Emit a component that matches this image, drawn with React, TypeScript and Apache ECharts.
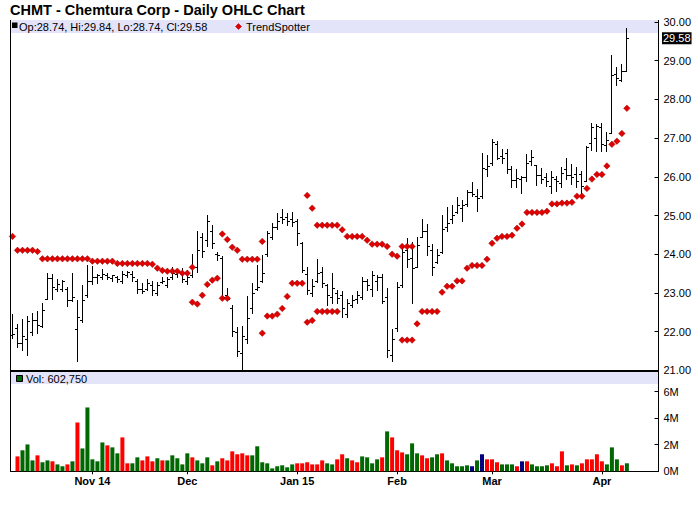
import React, { useEffect, useRef } from "react";
import * as echarts from "echarts";

const dates = [
  "2014-10-10","2014-10-13","2014-10-14","2014-10-15","2014-10-16","2014-10-17","2014-10-20","2014-10-21","2014-10-22","2014-10-23","2014-10-24","2014-10-27","2014-10-28","2014-10-29","2014-10-30","2014-10-31",
  "2014-11-03","2014-11-04","2014-11-05","2014-11-06","2014-11-07","2014-11-10","2014-11-11","2014-11-12","2014-11-13","2014-11-14","2014-11-17","2014-11-18","2014-11-19","2014-11-20","2014-11-21","2014-11-24","2014-11-25","2014-11-26","2014-11-28",
  "2014-12-01","2014-12-02","2014-12-03","2014-12-04","2014-12-05","2014-12-08","2014-12-09","2014-12-10","2014-12-11","2014-12-12","2014-12-15","2014-12-16","2014-12-17","2014-12-18","2014-12-19","2014-12-22","2014-12-23","2014-12-24","2014-12-26","2014-12-29","2014-12-30","2014-12-31",
  "2015-01-02","2015-01-05","2015-01-06","2015-01-07","2015-01-08","2015-01-09","2015-01-12","2015-01-13","2015-01-14","2015-01-15","2015-01-16","2015-01-20","2015-01-21","2015-01-22","2015-01-23","2015-01-26","2015-01-27","2015-01-28","2015-01-29","2015-01-30",
  "2015-02-02","2015-02-03","2015-02-04","2015-02-05","2015-02-06","2015-02-09","2015-02-10","2015-02-11","2015-02-12","2015-02-13","2015-02-17","2015-02-18","2015-02-19","2015-02-20","2015-02-23","2015-02-24","2015-02-25","2015-02-26","2015-02-27",
  "2015-03-02","2015-03-03","2015-03-04","2015-03-05","2015-03-06","2015-03-09","2015-03-10","2015-03-11","2015-03-12","2015-03-13","2015-03-16","2015-03-17","2015-03-18","2015-03-19","2015-03-20","2015-03-23","2015-03-24","2015-03-25","2015-03-26","2015-03-27","2015-03-30","2015-03-31",
  "2015-04-01","2015-04-02","2015-04-06","2015-04-07","2015-04-08","2015-04-09"
];

const tickLabels = ["Nov 14", "Dec", "Jan 15", "Feb", "Mar", "Apr"];

const opens = [
  21.91,22.10,21.70,21.80,21.99,22.30,22.14,22.84,23.38,23.10,
  23.10,23.10,22.82,22.07,22.30,22.95,23.30,23.40,23.40,23.45,
  23.38,23.40,23.30,23.45,23.50,23.30,23.10,23.10,23.20,23.00,
  23.28,23.20,23.40,23.50,23.55,23.30,23.45,23.67,24.44,24.37,
  24.60,24.00,23.90,22.95,22.60,22.00,21.45,21.80,22.60,23.10,
  23.30,24.00,24.45,24.70,24.95,24.95,24.90,24.85,24.30,23.50,
  23.00,23.30,23.55,23.20,22.90,23.00,22.95,22.45,22.70,22.85,
  22.90,23.30,23.10,23.30,23.40,22.90,21.40,22.10,23.20,24.10,
  23.90,23.67,24.44,24.60,24.10,23.80,24.06,24.70,24.90,25.10,
  25.20,25.30,25.61,25.50,25.50,26.20,26.35,26.85,26.55,26.61,
  26.20,25.92,25.94,26.00,26.40,26.30,26.05,26.00,25.76,25.95,
  25.85,26.20,26.05,26.07,26.07,25.90,26.87,27.00,27.29,26.82,
  27.13,28.66,28.50,28.74
];
const highs = [
  22.45,22.20,22.33,22.40,22.48,22.53,22.74,23.51,23.49,23.36,
  23.33,23.15,23.51,22.82,23.20,23.72,23.70,23.49,23.62,23.51,
  23.46,23.44,23.57,23.57,23.57,23.36,23.26,23.36,23.31,23.28,
  23.41,23.41,23.67,23.62,23.64,23.59,24.01,24.60,24.55,25.01,
  24.75,24.06,23.95,23.13,22.69,22.12,22.14,22.92,23.26,23.72,
  23.98,24.60,24.81,25.06,25.17,25.06,25.09,24.91,24.32,23.67,
  23.36,23.88,23.67,23.23,23.51,23.07,23.05,22.84,22.95,23.05,
  23.41,23.36,23.57,23.46,23.49,23.13,22.07,23.28,24.19,24.42,
  24.32,24.44,24.91,24.78,24.26,24.13,25.01,25.22,25.27,25.48,
  25.40,25.66,25.87,25.68,26.61,26.56,26.98,26.93,26.72,26.72,
  26.28,26.20,26.02,26.59,26.69,26.30,26.23,26.10,26.15,26.02,
  26.25,26.49,26.33,26.25,26.15,26.80,27.39,27.36,27.39,27.16,
  29.15,28.84,28.91,29.84
];
const lows = [
  21.83,21.60,21.52,21.40,21.91,21.96,22.12,22.84,22.84,23.05,
  23.05,22.66,22.79,21.24,22.25,22.89,23.23,23.26,23.36,23.36,
  23.31,23.28,23.26,23.41,23.31,23.00,23.00,23.07,22.95,22.95,
  23.26,23.15,23.36,23.41,23.28,23.23,23.41,23.54,23.93,24.21,
  24.16,23.85,22.84,22.82,21.89,21.37,21.01,21.71,22.48,23.07,
  23.28,23.95,24.39,24.65,24.81,24.75,24.73,24.24,23.54,22.97,
  22.92,23.28,23.15,22.69,22.74,22.74,22.38,22.38,22.64,22.74,
  22.84,23.07,22.92,23.07,22.74,21.34,21.24,22.02,23.15,23.67,
  22.74,23.67,24.44,23.98,23.46,23.77,24.03,24.60,24.81,25.06,
  24.86,25.25,25.50,25.12,25.45,26.02,26.30,26.46,26.36,26.10,
  25.74,25.74,25.58,25.89,26.30,25.79,25.84,25.76,25.58,25.63,
  25.74,25.94,25.81,25.74,25.48,25.89,26.69,26.67,26.67,26.67,
  27.13,28.37,28.48,28.74
];
const closes = [
  21.94,21.71,21.89,22.27,22.30,22.17,22.56,23.38,23.15,23.23,
  23.31,22.82,22.89,22.38,22.82,23.31,23.41,23.45,23.50,23.42,
  23.45,23.36,23.49,23.55,23.40,23.10,23.05,23.26,23.07,23.20,
  23.31,23.36,23.51,23.54,23.36,23.41,23.67,24.10,24.08,24.86,
  24.29,23.98,22.89,22.85,22.02,21.50,21.89,22.35,23.00,23.15,
  23.51,24.55,24.70,24.86,24.91,24.86,24.83,24.55,23.59,23.07,
  23.18,23.51,23.26,22.95,23.13,22.87,22.62,22.74,22.82,22.95,
  23.31,23.20,23.46,23.40,22.79,21.52,21.81,23.15,24.06,23.88,
  23.64,24.24,24.60,24.21,23.67,23.98,24.65,24.81,25.01,25.27,
  25.27,25.61,25.55,25.45,26.23,26.28,26.90,26.49,26.49,26.20,
  25.92,25.97,26.00,26.36,26.51,26.05,25.95,25.89,26.00,25.89,
  26.10,26.05,25.99,25.90,25.75,26.77,27.29,27.32,26.85,26.95,
  28.63,28.55,28.73,29.58
];

// volume in millions of shares (first bar has none)
const volumes = [
  null,
  1.12,1.58,2.02,0.82,1.2,0.68,0.82,0.75,0.52,0.38,
  0.52,0.75,3.67,1.72,4.8,0.9,0.75,2.17,1.95,1.8,
  1.35,2.55,0.6,0.6,1.05,0.82,1.12,0.75,0.98,0.82,
  0.82,1.2,0.98,0.52,1.35,1.05,0.82,0.6,1.05,0.45,
  0.75,0.98,0.82,1.5,1.28,1.35,1.2,1.2,1.88,0.68,
  0.6,0.22,0.38,0.45,0.3,0.52,0.6,0.6,0.68,0.52,
  0.52,0.82,0.6,0.52,0.9,1.28,0.98,
  0.82,0.68,1.12,1.05,0.6,0.9,1.05,3.0,2.55,1.58,
  1.42,1.28,2.1,1.35,1.2,0.98,1.05,1.28,1.35,0.82,
  0.6,0.38,0.38,0.45,0.38,0.82,1.28,0.9,0.9,0.68,
  0.52,0.52,0.52,0.38,0.75,0.75,0.52,0.38,0.38,0.45,
  0.6,0.38,1.5,0.45,0.52,0.45,0.6,0.9,0.9,1.28,
  0.75,0.52,1.8,0.9,0.45,0.60275
];
// u = up day, d = down day, n = unchanged
const volDir =
  "-duuuduuduududuuuuuduudduuddduduuuuuduuudu" +
  "dddddduuuuuuuuudddddduudduddu" +
  "uuududdduuudduuduuuuununddduuudnduuuudddu" +
  "duddddduuuduuduu";

const trendA = [
  24.46,24.10,24.10,24.10,24.10,24.07,23.88,23.88,23.88,23.88,
  23.88,23.88,23.88,23.88,23.88,23.88,23.82,23.82,23.82,23.82,
  23.82,23.76,23.76,23.76,23.76,23.76,23.76,23.76,23.74,23.64,
  23.58,23.56,23.56,23.56,23.51,23.51,23.66,null,null,null,
  null,null,24.52,24.38,24.18,24.10,23.87,23.87,23.87,23.87,
  24.33,null,null,null,null,null,null,null,null,25.52,
  25.19,24.75,24.75,24.75,24.75,24.75,24.63,24.46,24.46,24.46,
  24.46,24.36,24.26,24.26,24.26,24.20,24.00,23.95,24.20,24.20,
  24.20,null,null,null,null,null,null,null,null,null,
  null,null,null,null,null,null,null,null,null,null,
  null,null,null,null,null,null,null,null,null,null,
  null,null,null,null,null,null,null,null,null,null,
  null,null,null,null
];
const trendB = [
  null,null,null,null,null,null,null,null,null,null,
  null,null,null,null,null,null,null,null,null,null,
  null,null,null,null,null,null,null,null,null,null,
  null,null,null,null,null,null,22.76,22.71,22.94,23.22,
  23.33,23.38,22.86,22.86,null,null,null,null,null,null,
  21.96,22.40,22.40,22.45,22.60,22.91,23.25,23.25,23.25,22.24,
  22.29,22.52,22.52,22.52,22.52,22.52,null,null,null,null,
  null,null,null,null,null,null,null,null,21.78,21.78,
  21.78,22.20,22.52,22.52,22.52,22.52,23.02,23.17,23.17,23.31,
  23.31,23.64,23.71,23.71,23.71,23.87,24.28,24.41,24.46,24.46,
  24.49,24.67,24.78,25.08,25.08,25.08,25.08,25.11,25.30,25.30,
  25.32,25.32,25.34,25.50,25.50,25.70,25.94,26.06,26.06,26.28,
  26.84,26.92,27.12,27.77
];

const FONT = "'Liberation Sans', Arial, Helvetica, sans-serif";
const UP = "#006800";
const DOWN = "#ff0000";
const FLAT = "#000080";
const BAND = "#e3e3fa";
const DOT = "#e00000";

export default function App() {
  const ref = useRef<HTMLDivElement>(null);

  useEffect(() => {
    document.body.style.margin = "0";
    const chart = echarts.init(ref.current!, null, { renderer: "svg" });
    const n = dates.length;
    const last = n - 1;

    const monthStarts: number[] = [];
    dates.forEach((d, i) => {
      if (i > 0 && d.slice(0, 7) !== dates[i - 1].slice(0, 7)) monthStarts.push(i);
    });
    const labelOf: Record<number, string> = {};
    monthStarts.forEach((idx, k) => (labelOf[idx] = tickLabels[k] || ""));

    const ohlc = dates.map((_, i) => [i, opens[i], highs[i], lows[i], closes[i]]);
    const dotsA = trendA.map((v, i) => (v == null ? null : [i, v])).filter(Boolean);
    const dotsB = trendB.map((v, i) => (v == null ? null : [i, v])).filter(Boolean);
    const volData = volumes
      .map((v, i) =>
        v == null
          ? null
          : {
              value: [i, v],
              itemStyle: { color: volDir[i] === "u" ? UP : volDir[i] === "d" ? DOWN : FLAT },
            }
      )
      .filter(Boolean);

    const X_MIN = -0.4;
    const X_MAX = 129.33;
    const GL = 10.5;
    const GR = 41.5;

    const fmt = (v: number) => v.toFixed(2);
    const legendText = `Op:${fmt(opens[last])}, Hi:${fmt(highs[last])}, Lo:${fmt(lows[last])}, Cl:${fmt(closes[last])}`;
    const volText = `Vol: ${Math.round((volumes[last] as number) * 1e6).toLocaleString("en-US")}`;

    const baseGraphic: any[] = [
      { id: "band1", type: "rect", z: 0, shape: { x: 11, y: 20, width: 647, height: 13 }, style: { fill: BAND } },
      { id: "band2", type: "rect", z: 0, shape: { x: 11, y: 372, width: 647, height: 12 }, style: { fill: BAND } },
      {
        id: "title", type: "text", z: 10, x: 10, y: 10,
        style: { text: "CHMT - Chemtura Corp - Daily OHLC Chart", font: `bold 14.5px ${FONT}`, fill: "#000", verticalAlign: "middle" },
      },
      { id: "sq1", type: "rect", z: 10, shape: { x: 12, y: 22.5, width: 5.5, height: 5.5 }, style: { fill: "#000" } },
      {
        id: "lg1", type: "text", z: 10, x: 19, y: 26.5,
        style: { text: legendText, font: `11px ${FONT}`, fill: "#000", verticalAlign: "middle" },
      },
      {
        id: "dia", type: "polygon", z: 10,
        shape: { points: [[238.5, 23.5], [241.5, 26.5], [238.5, 29.5], [235.5, 26.5]] },
        style: { fill: DOT, stroke: "#990000", lineWidth: 0.5 },
      },
      {
        id: "lg2", type: "text", z: 10, x: 246, y: 26.5,
        style: { text: "TrendSpotter", font: `11px ${FONT}`, fill: "#000", verticalAlign: "middle" },
      },
      { id: "sq2", type: "rect", z: 10, shape: { x: 16.5, y: 375.5, width: 6, height: 6 }, style: { fill: UP, stroke: "#000", lineWidth: 1 } },
      {
        id: "lg3", type: "text", z: 10, x: 26, y: 378.5,
        style: { text: volText, font: `11px ${FONT}`, fill: "#000", verticalAlign: "middle" },
      },
      { id: "bl", type: "line", z: 20, shape: { x1: 10.5, y1: 20, x2: 10.5, y2: 471.5 }, style: { stroke: "#000", lineWidth: 1 } },
      { id: "br", type: "line", z: 20, shape: { x1: 658.5, y1: 20, x2: 658.5, y2: 471.5 }, style: { stroke: "#000", lineWidth: 1 } },
      { id: "sep", type: "line", z: 20, shape: { x1: 10.5, y1: 371, x2: 658.5, y2: 371 }, style: { stroke: "#000", lineWidth: 2 } },
    ];

    const axisLabelStyle = { color: "#000", fontSize: 11, fontFamily: FONT, margin: 5 };

    chart.setOption({
      animation: false,
      backgroundColor: "#fff",
      grid: [
        { left: GL, right: GR, top: 22, height: 348.3, outerBoundsMode: "none" },
        { left: GL, right: GR, top: 391.5, height: 79.8, outerBoundsMode: "none" },
      ],
      xAxis: [
        {
          gridIndex: 0, type: "value", min: X_MIN, max: X_MAX,
          axisLine: { show: false, onZero: false }, axisTick: { show: false }, axisLabel: { show: false }, splitLine: { show: false },
        },
        {
          gridIndex: 1, type: "value", min: X_MIN, max: X_MAX,
          axisLine: { show: true, onZero: false, lineStyle: { color: "#000", width: 1 } },
          axisTick: { show: true, customValues: monthStarts, length: 3, lineStyle: { color: "#000" } },
          axisLabel: {
            show: true, customValues: monthStarts, formatter: (v: number) => labelOf[Math.round(v)] || "",
            color: "#000", fontSize: 11, fontWeight: "bold", fontFamily: FONT, margin: 4,
          },
          splitLine: { show: false },
        },
      ],
      yAxis: [
        {
          gridIndex: 0, type: "value", position: "right", min: 21, max: 30, interval: 1,
          axisLine: { show: false, onZero: false },
          axisTick: { show: true, inside: true, length: 4, lineStyle: { color: "#000" } },
          axisLabel: { ...axisLabelStyle, formatter: (v: number) => v.toFixed(2) },
          splitLine: { show: false },
        },
        {
          gridIndex: 1, type: "value", position: "right", min: 0, max: 6, interval: 2,
          axisLine: { show: false, onZero: false },
          axisTick: { show: true, inside: true, length: 4, lineStyle: { color: "#000" } },
          axisLabel: { ...axisLabelStyle, formatter: (v: number) => `${v}M` },
          splitLine: { show: false },
        },
      ],
      series: [
        {
          type: "custom",
          name: "OHLC",
          xAxisIndex: 0, yAxisIndex: 0,
          data: ohlc,
          encode: { x: 0, y: [1, 2, 3, 4] },
          renderItem: (_p: any, api: any) => {
            const i = api.value(0);
            const pO = api.coord([i, api.value(1)]);
            const pH = api.coord([i, api.value(2)]);
            const pL = api.coord([i, api.value(3)]);
            const pC = api.coord([i, api.value(4)]);
            const x = Math.floor(pO[0]) + 0.5;
            const yO = Math.round(pO[1]) + 0.5;
            const yC = Math.round(pC[1]) + 0.5;
            const st = { stroke: "#000", lineWidth: 1 };
            return {
              type: "group",
              children: [
                { type: "line", shape: { x1: x, y1: Math.round(pH[1]), x2: x, y2: Math.round(pL[1]) + 1 }, style: st },
                { type: "line", shape: { x1: x - 2.5, y1: yO, x2: x, y2: yO }, style: st },
                { type: "line", shape: { x1: x, y1: yC, x2: x + 2.5, y2: yC }, style: st },
              ],
            };
          },
          z: 3,
        },
        {
          type: "scatter", name: "TrendSpotter", xAxisIndex: 0, yAxisIndex: 0,
          data: dotsA, symbol: "diamond", symbolSize: 6.5,
          itemStyle: { color: DOT, borderColor: "#990000", borderWidth: 0.5, opacity: 1 },
          z: 4,
        },
        {
          type: "scatter", name: "TrendSpotter2", xAxisIndex: 0, yAxisIndex: 0,
          data: dotsB, symbol: "diamond", symbolSize: 6.5,
          itemStyle: { color: DOT, borderColor: "#990000", borderWidth: 0.5, opacity: 1 },
          z: 4,
        },
        {
          type: "bar", name: "Volume", xAxisIndex: 1, yAxisIndex: 1,
          data: volData, barWidth: 4,
        },
      ],
      graphic: baseGraphic,
    });

    const yTag = chart.convertToPixel({ yAxisIndex: 0 }, closes[last]) as number;
    chart.setOption({
      graphic: [
        ...baseGraphic,
        {
          id: "tag", type: "text", z: 30, x: 662, y: yTag,
          style: {
            text: closes[last].toFixed(2), font: `11px ${FONT}`, fill: "#fff",
            backgroundColor: "#000", padding: [1, 1, 0, 1], verticalAlign: "middle",
          },
        },
      ],
    });

    return () => chart.dispose();
  }, []);

  return <div ref={ref} style={{ width: 700, height: 512 }} />;
}
